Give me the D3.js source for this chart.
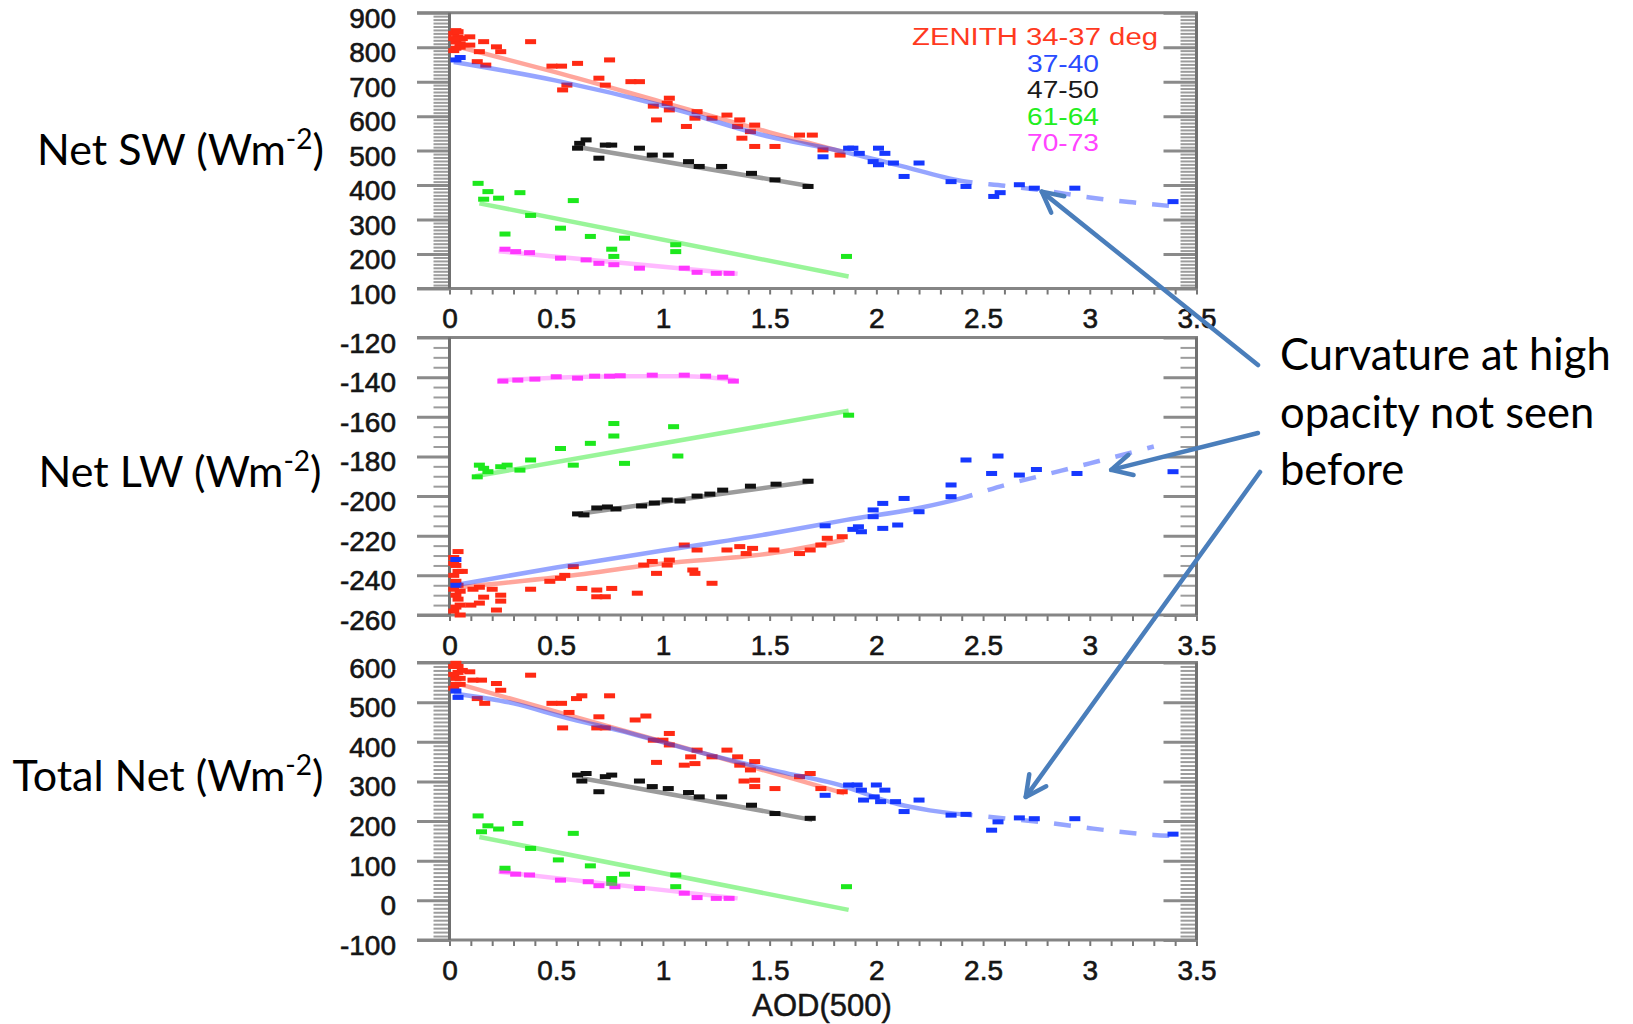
<!DOCTYPE html>
<html><head><meta charset="utf-8">
<script src="https://cdn.jsdelivr.net/npm/d3@7"></script>
<style>body{margin:0;background:#fff;} svg{display:block;}</style>
</head><body>
<svg id="c" width="1633" height="1024"></svg>
<script>
// ---------------- DATA ----------------
const xTickLabels = [0, 0.5, 1, 1.5, 2, 2.5, 3, 3.5];
const swTicks = [100, 200, 300, 400, 500, 600, 700, 800, 900];
const lwTicks = [-260, -240, -220, -200, -180, -160, -140, -120];
const netTicks = [-100, 0, 100, 200, 300, 400, 500, 600];
const legendLabels = ["34-37", "37-40", "47-50", "61-64", "70-73"];
const panelTitles = ["Net SW (Wm", "Net LW (Wm", "Total Net (Wm"];
const noteLines = ["Curvature at high", "opacity not seen", "before"];

// Net SW panel (AOD, W m-2)
const swRed = [[0.02,840],[0.04,830],[0.03,815],[0.05,800],[0.02,790],[0.06,825],[0.03,848],
  [0.02,825],[0.04,845],[0.05,810],[0.03,797],
  [0.095,830],[0.16,816],[0.22,801],[0.24,787],[0.095,806],[0.14,787],[0.38,816],
  [0.13,758],[0.17,748],[0.48,745],[0.525,745],[0.6,753],[0.75,763],[0.70,710],[0.73,690],
  [0.53,676],[0.55,690],[0.85,700],[0.89,700],[1.03,652],[1.02,637],[0.955,629],[0.97,589],
  [1.03,618],[1.16,613],[1.15,594],[1.11,570],[1.23,594],[1.30,603],[1.36,589],[1.35,570],
  [1.41,555],[1.43,574],[1.37,536],[1.43,512],[1.525,512],[1.64,545],[1.70,545],[1.75,502],[1.83,487]];
const swRedFit = [[0.05,800],[0.5,727],[1.0,640],[1.5,553],[1.85,495]];
const swBlue = [[0.03,763],[0.05,770],[1.75,482],[1.87,507],[1.89,507],[1.92,492],[2.01,507],[2.04,492],
  [2.01,459],[1.985,468],[2.08,464],[2.2,464],[2.13,425],[2.35,410],[2.42,396],[2.55,367],[2.58,378],
  [2.67,401],[2.74,391],[2.93,391],[3.39,352]];
const swBlueFit = [[0.02,757],[0.5,703],[1.0,630],[1.5,540],[1.8,503],[2.1,458],[2.4,412],[2.6,398],
  [2.8,383],[3.0,364],[3.2,350],[3.4,338]];
const swBlack = [[0.61,521],[0.60,507],[0.64,531],[0.73,516],[0.70,478],[0.76,516],[0.89,507],[0.95,487],
  [1.025,487],[1.12,468],[1.17,454],[1.275,454],[1.415,434],[1.525,415],[1.68,396]];
const swBlackFit = [[0.62,508],[1.7,396]];
const swGreen = [[0.134,405],[0.18,381],[0.16,359],[0.23,362],[0.33,378],[0.58,355],[0.38,312],[0.52,275],
  [0.26,258],[0.66,251],[0.82,246],[0.76,214],[0.77,193],[1.06,227],[1.06,207],[1.86,193]];
const swGreenFit = [[0.14,347],[1.87,135]];
const swMagenta = [[0.26,214],[0.31,207],[0.375,204],[0.52,188],[0.64,183],[0.70,173],[0.77,169],[0.89,159],
  [1.10,159],[1.16,147],[1.25,144],[1.31,144]];
const swMagentaFit = [[0.23,208],[1.35,143]];

// Net LW panel
const lwRed = [[0.02,-231],[0.03,-235],[0.02,-240],[0.04,-245],[0.03,-250],[0.05,-255],[0.02,-258],[0.06,-238],[0.04,-228],
  [0.03,-243],[0.02,-247],[0.04,-252],[0.03,-256],[0.05,-260],[0.02,-234],[0.04,-238],[0.05,-248],
  [0.11,-247],[0.14,-246],[0.2,-247],[0.24,-250],[0.16,-251],[0.24,-253],[0.1,-255],[0.14,-254],[0.22,-257.5],
  [0.38,-247],[0.47,-243],[0.52,-241.5],[0.54,-240],[0.58,-235.6],[0.62,-246.6],[0.69,-247.4],[0.69,-250.8],
  [0.73,-250.8],[0.76,-246.6],[0.88,-249],[0.91,-234.8],[0.95,-233],[0.97,-239],[1.03,-232.3],[1.02,-234.8],
  [1.14,-237.3],[1.15,-239],[1.23,-244],[1.1,-224.7],[1.16,-227.2],[1.3,-227.2],[1.36,-225.5],[1.39,-229],
  [1.42,-226.4],[1.52,-227.2],[1.64,-229],[1.69,-227.2],[1.74,-224.7],[1.77,-221.3],[1.84,-220.5]];
const lwRedFit = [[0.05,-246],[0.5,-241],[1.0,-234],[1.5,-229],[1.85,-222]];
const lwBlue = [[0.03,-232],[0.03,-245],[1.76,-215],[1.89,-216.8],[1.916,-215.5],[1.93,-218],[2.03,-216.3],
  [2.1,-214.6],[1.985,-210.4],[1.985,-207],[2.03,-203.7],[2.13,-201.2],[2.2,-207.9],[2.35,-200.3],[2.35,-194.4],
  [2.42,-181.8],[2.57,-179.8],[2.54,-188.6],[2.67,-189.4],[2.75,-186.6],[2.94,-188.6],[3.39,-187.7]];
const lwBlueFit = [[0.05,-244.5],[0.5,-236],[1.0,-227.5],[1.5,-219],[1.86,-212],[2.2,-206],[2.4,-201],
  [2.6,-194.5],[2.8,-189],[3.0,-183.5],[3.3,-175]];
const lwBlack = [[0.6,-209],[0.63,-209.5],[0.69,-206],[0.74,-205.5],[0.78,-206.5],[0.9,-205],[0.96,-203.5],
  [1.02,-202],[1.08,-202.5],[1.16,-200],[1.22,-199],[1.28,-197],[1.41,-195],[1.53,-194],[1.68,-192.5]];
const lwBlackFit = [[0.6,-209],[1.7,-192.5]];
const lwGreen = [[0.14,-184.4],[0.16,-186],[0.13,-190.3],[0.18,-187.7],[0.24,-185.2],[0.27,-184.4],[0.33,-186.9],
  [0.38,-181.8],[0.52,-176],[0.58,-184.4],[0.66,-173.4],[0.77,-163.4],[0.77,-169.7],[0.82,-183.5],[1.05,-165],
  [1.07,-179.8],[1.87,-159.2]];
const lwGreenFit = [[0.12,-190],[1.87,-157]];
const lwMagenta = [[0.25,-142],[0.32,-141.5],[0.4,-141],[0.5,-139.8],[0.6,-140.5],[0.68,-139.5],[0.75,-139.5],
  [0.8,-139.3],[0.95,-139],[1.1,-139],[1.2,-139.5],[1.28,-140],[1.33,-142]];
const lwMagentaFit = [[0.23,-141.5],[0.5,-140.3],[0.8,-139.6],[1.1,-139.5],[1.34,-141.5]];

// Total Net panel
const netRed = [[0.02,590],[0.04,575],[0.03,560],[0.05,545],[0.02,535],[0.06,580],[0.03,598],
  [0.02,570],[0.04,590],[0.05,560],[0.03,545],
  [0.095,576.5],[0.15,555.5],[0.22,547],[0.24,530],[0.11,555.5],[0.38,568],[0.165,497],[0.13,509],
  [0.48,497],[0.525,497],[0.595,509],[0.62,516],[0.75,516],[0.56,474],[0.70,463],[0.53,435],[0.69,435],[0.73,435],
  [0.87,455],[0.92,465],[0.955,404],[1.0,404],[1.03,421],[1.03,392],[0.97,348],[1.16,379],[1.13,362],[1.10,341],
  [1.15,345],[1.23,362],[1.30,379],[1.35,362],[1.36,341],[1.43,350],[1.41,329],[1.38,301],[1.43,287],[1.43,303],
  [1.525,282],[1.64,312],[1.69,320],[1.74,282],[1.84,274]];
const netRedFit = [[0.05,545],[0.5,476],[1.0,400],[1.5,324],[1.85,270]];
const netBlue = [[0.03,528],[0.04,512],[1.76,265],[1.87,291],[1.91,291],[1.93,278],[2.0,291],[2.04,278],
  [1.94,253],[2.02,249],[2.09,249],[1.99,261],[2.2,253],[2.13,224],[2.35,215],[2.42,217],[2.57,198],[2.54,177],
  [2.67,208],[2.74,206],[2.93,206],[3.39,167]];
const netBlueFit = [[0.02,522],[0.3,497],[0.53,463],[0.85,421],[1.16,375],[1.55,324],[1.8,295],[2.1,243],
  [2.25,227],[2.52,211],[2.83,194],[3.0,182],[3.3,165],[3.4,162]];
const netBlack = [[0.60,316],[0.62,301],[0.64,320],[0.73,312],[0.76,316],[0.70,274],[0.89,301],[0.95,287],
  [1.025,282],[1.12,272],[1.17,261],[1.275,261],[1.415,240],[1.525,219],[1.69,207]];
const netBlackFit = [[0.62,308],[1.7,203]];
const netGreen = [[0.134,213],[0.18,188],[0.15,173],[0.23,180],[0.32,194],[0.58,169],[0.38,131],[0.51,102],
  [0.26,81],[0.66,87],[0.82,66],[0.76,43],[0.76,55],[1.06,64],[1.06,34.5],[1.86,34.5]];
const netGreenFit = [[0.14,160],[1.87,-24]];
const netMagenta = [[0.26,74],[0.31,66],[0.375,64],[0.52,51],[0.65,47],[0.70,37],[0.775,34.5],[0.89,30],
  [1.10,18],[1.16,7],[1.25,5],[1.31,5]];
const netMagentaFit = [[0.23,72],[1.35,5]];

// arrow tips in data coordinates: [panel index, AOD, value]
const arrowTips = [[0, 2.775, 381], [1, 3.10, -186.8], [2, 2.70, 261]];

// ---------------- STYLE / LAYOUT ----------------
const colors = {red:"#ff2a14", blue:"#1638ff", black:"#111111", green:"#1de81d", magenta:"#ff38ff"};
const fitOpacity = {red:0.42, blue:0.45, black:0.42, green:0.45, magenta:0.35};
const legendColors = ["#ff3a1f", "#2a4cff", "#1a1a1a", "#22ee22", "#ff44ff"];
const X0 = 449.5, X1 = 1196.5, FRAME_L = 417;
const panelBoxes = [{top:12.7, bottom:288.5}, {top:337.5, bottom:615}, {top:662.5, bottom:940}];
const titleLayout = [{x:37, y:165}, {x:38.5, y:487}, {x:12.5, y:791}];
const tickFont = "'Liberation Sans', Arial, sans-serif";
const textFont = "Lato, 'Open Sans', sans-serif";

const panels = [
  {ticks: swTicks, minor: 10, series: {red:[swRed,swRedFit], blue:[swBlue,swBlueFit], black:[swBlack,swBlackFit], green:[swGreen,swGreenFit], magenta:[swMagenta,swMagentaFit]}},
  {ticks: lwTicks, minor: 5, series: {red:[lwRed,lwRedFit], blue:[lwBlue,lwBlueFit], black:[lwBlack,lwBlackFit], green:[lwGreen,lwGreenFit], magenta:[lwMagenta,lwMagentaFit]}},
  {ticks: netTicks, minor: 10, series: {red:[netRed,netRedFit], blue:[netBlue,netBlueFit], black:[netBlack,netBlackFit], green:[netGreen,netGreenFit], magenta:[netMagenta,netMagentaFit]}}
];

const svg = d3.select("#c");
const x = d3.scaleLinear().domain([0, 3.5]).range([X0, X1]);

panels.forEach((p, i) => {
  const box = panelBoxes[i];
  const lo = d3.min(p.ticks), hi = d3.max(p.ticks);
  const y = d3.scaleLinear().domain([lo, hi]).range([box.bottom, box.top]);
  p.y = y;
  const g = svg.append("g");
  const minorVals = d3.range(lo, hi + 0.001, p.minor).filter(v => !p.ticks.includes(v));

  // left minor ticks
  g.append("g").attr("transform", `translate(${X0},0)`)
    .call(d3.axisLeft(y).tickValues(minorVals).tickSize(16).tickFormat(""))
    .call(a => a.select(".domain").remove())
    .call(a => a.selectAll("line").attr("stroke", "#9c9c9c").attr("stroke-width", 2));
  // left major ticks + labels
  g.append("g").attr("transform", `translate(${X0},0)`)
    .call(d3.axisLeft(y).tickValues(p.ticks).tickSize(X0 - FRAME_L).tickPadding(21).tickFormat(d => String(d)))
    .call(a => a.select(".domain").remove())
    .call(a => a.selectAll("line").attr("stroke", "#8a8a8a").attr("stroke-width", 3))
    .call(a => a.selectAll("text").attr("font-family", tickFont).attr("font-size", 28)
      .attr("fill", "#151515").attr("dy", "0.52em").attr("stroke", "#151515").attr("stroke-width", 0.6));
  // right ticks (inward)
  g.append("g").attr("transform", `translate(${X1},0)`)
    .call(d3.axisRight(y).tickValues(minorVals).tickSizeInner(-16).tickSizeOuter(0).tickFormat(""))
    .call(a => a.select(".domain").remove())
    .call(a => a.selectAll("line").attr("stroke", "#9c9c9c").attr("stroke-width", 2));
  g.append("g").attr("transform", `translate(${X1},0)`)
    .call(d3.axisRight(y).tickValues(p.ticks).tickSizeInner(-33).tickSizeOuter(0).tickFormat(""))
    .call(a => a.select(".domain").remove())
    .call(a => a.selectAll("line").attr("stroke", "#8a8a8a").attr("stroke-width", 3));
  // bottom ticks
  g.append("g").attr("transform", `translate(0,${box.bottom})`)
    .call(d3.axisBottom(x).tickValues(d3.range(0, 3.51, 0.1)).tickSize(6).tickFormat(""))
    .call(a => a.select(".domain").remove())
    .call(a => a.selectAll("line").attr("stroke", "#777").attr("stroke-width", 2));
  g.append("g").attr("transform", `translate(0,${box.bottom})`)
    .call(d3.axisBottom(x).tickValues(xTickLabels).tickSize(0).tickPadding(20).tickFormat(d3.format("~g")))
    .call(a => a.select(".domain").remove())
    .call(a => a.selectAll("text").attr("font-family", tickFont).attr("font-size", 28)
      .attr("fill", "#151515").attr("stroke", "#151515").attr("stroke-width", 0.6));
  // frame
  const fr = g.append("g").attr("stroke", "#858585").attr("stroke-width", 3).attr("fill", "none");
  fr.append("line").attr("x1", FRAME_L).attr("x2", X1 + 1.5).attr("y1", box.top).attr("y2", box.top);
  fr.append("line").attr("x1", FRAME_L).attr("x2", X1 + 1.5).attr("y1", box.bottom).attr("y2", box.bottom);
  fr.append("line").attr("x1", X0).attr("x2", X0).attr("y1", box.top).attr("y2", box.bottom).attr("stroke", "#707070");
  fr.append("line").attr("x1", X1).attr("x2", X1).attr("y1", box.top).attr("y2", box.bottom).attr("stroke", "#707070");

  // points
  const order = ["magenta", "green", "black", "red", "blue"];
  order.forEach(k => {
    g.append("g").selectAll("rect").data(p.series[k][0]).join("rect")
      .attr("x", d => x(d[0]) - 5.5).attr("y", d => y(d[1]) - 2.5)
      .attr("width", 11).attr("height", 5).attr("fill", colors[k]);
  });
  // fit lines
  const line = d3.line().x(d => x(d[0])).y(d => y(d[1])).curve(d3.curveMonotoneX);
  order.forEach(k => {
    const path = g.append("path").datum(p.series[k][1]).attr("d", line)
      .attr("fill", "none").attr("stroke", colors[k]).attr("stroke-width", 4.5)
      .attr("stroke-opacity", fitOpacity[k]);
    if (k === "blue") {
      // beyond AOD ~2.45 the fitted curve is drawn broken
      const node = path.node(), L = node.getTotalLength();
      let lo2 = 0, hi2 = L;
      for (let it = 0; it < 40; it++) { const m = (lo2 + hi2) / 2; if (node.getPointAtLength(m).x < x(2.45)) lo2 = m; else hi2 = m; }
      const arr = [lo2];
      let acc = lo2;
      while (acc < L + 40) { arr.push(16, 17); acc += 33; }
      path.attr("stroke-dasharray", arr.join(" "));
    }
  });

  // title
  const t = svg.append("text").attr("x", titleLayout[i].x).attr("y", titleLayout[i].y)
    .attr("font-family", textFont).attr("font-size", 43).attr("fill", "#000");
  t.append("tspan").text(panelTitles[i]);
  t.append("tspan").attr("dy", -16).attr("font-size", 28).text("-2");
  t.append("tspan").attr("dy", 16).text(")");
});

// legend: one line per zenith band
legendLabels.forEach((lab, i) => {
  svg.append("text").attr("text-anchor", "end").attr("font-family", tickFont).attr("font-size", 23)
    .attr("x", i === 0 ? 1158 : 1099).attr("y", 45 + i * 26.6)
    .attr("textLength", i === 0 ? 246 : 72).attr("lengthAdjust", "spacingAndGlyphs")
    .attr("fill", legendColors[i])
    .text(i === 0 ? "ZENITH " + lab + " deg" : lab);
});

// x axis title
svg.append("text").attr("x", 822).attr("y", 1016).attr("text-anchor", "middle")
  .attr("font-family", tickFont).attr("font-size", 31).attr("fill", "#151515")
  .attr("stroke", "#151515").attr("stroke-width", 0.5).text("AOD(500)");

// annotation text
noteLines.forEach((s, i) => {
  svg.append("text").attr("x", 1280).attr("y", 370 + i * 57.5)
    .attr("font-family", textFont).attr("font-size", 43.5).attr("fill", "#000").text(s);
});

// arrows
const arrowTails = [[1258, 365], [1258, 433], [1260, 472]];
const ag = svg.append("g").attr("stroke", "#4a7ebb").attr("stroke-width", 4.5).attr("stroke-linecap", "round").attr("fill", "none");
arrowTips.forEach((tp, i) => {
  const tx = x(tp[1]), ty = panels[tp[0]].y(tp[2]);
  const [sx, sy] = arrowTails[i];
  ag.append("line").attr("x1", sx).attr("y1", sy).attr("x2", tx).attr("y2", ty);
  const ang = Math.atan2(sy - ty, sx - tx), w = 23, spread = 27 * Math.PI / 180;
  const pts = [[tx + w * Math.cos(ang - spread), ty + w * Math.sin(ang - spread)], [tx, ty],
               [tx + w * Math.cos(ang + spread), ty + w * Math.sin(ang + spread)]];
  ag.append("path").attr("d", d3.line()(pts)).attr("stroke-linejoin", "round");
});
</script>
</body></html>
